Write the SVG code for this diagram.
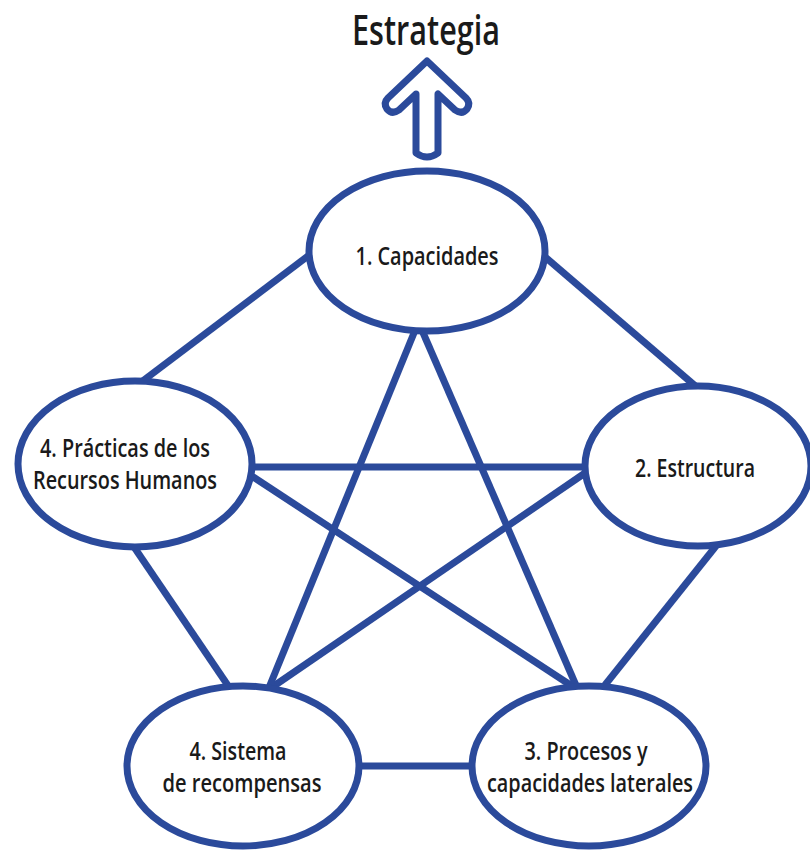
<svg xmlns="http://www.w3.org/2000/svg" width="810" height="850" viewBox="0 0 810 850">
  <style>
    .edge { stroke: #2b4a9b; stroke-width: 7; fill: none; stroke-linecap: butt; }
    .node { fill: #ffffff; stroke: #2b4a9b; stroke-width: 7; }
    .label { font-family: "Open Sans", "Liberation Sans", sans-serif; font-size: 25px; font-weight: 600; fill: #1a1a1a; text-anchor: middle; }
    .title { font-family: "Open Sans", "Liberation Sans", sans-serif; font-size: 42px; font-weight: 600; fill: #1a1a1a; text-anchor: middle; }
    .arrow { fill: #ffffff; stroke: #2b4a9b; stroke-width: 7; stroke-linejoin: round; }
  </style>

  <rect width="810" height="850" fill="#ffffff"/>

  <!-- heading and upward arrow -->
  <g id="strategy">
    <text class="title" x="426" y="45" textLength="148" lengthAdjust="spacingAndGlyphs">Estrategia</text>
    <path class="arrow" d="M416,153 L416,94 L399,110 Q392,115 387,109 Q383,103 388,98 L427,61 L466,98 Q471,103 467,109 Q462,115 455,110 L438,94 L438,153 Q427,161 416,153 Z"/>
  </g>

  <!-- connectors: pentagon sides and inner star -->
  <g id="connectors">
    <line class="edge" x1="312" y1="253" x2="140" y2="383"/>
    <line class="edge" x1="544" y1="256" x2="700" y2="390"/>
    <line class="edge" x1="245" y1="467" x2="590" y2="467"/>
    <line class="edge" x1="244" y1="471" x2="578" y2="690"/>
    <line class="edge" x1="588" y1="471" x2="268" y2="690"/>
    <line class="edge" x1="416" y1="328" x2="268" y2="690"/>
    <line class="edge" x1="421" y1="328" x2="578" y2="690"/>
    <line class="edge" x1="132" y1="544" x2="231" y2="690"/>
    <line class="edge" x1="716" y1="546" x2="601" y2="690"/>
    <line class="edge" x1="355" y1="766" x2="476" y2="766"/>
  </g>

  <g id="node-capacidades">
    <ellipse class="node" cx="427" cy="251" rx="118" ry="80"/>
    <text class="label" x="427" y="265" textLength="143" lengthAdjust="spacingAndGlyphs">1. Capacidades</text>
  </g>

  <g id="node-estructura">
    <ellipse class="node" cx="698" cy="466" rx="113" ry="80"/>
    <text class="label" x="695" y="477" textLength="120" lengthAdjust="spacingAndGlyphs">2. Estructura</text>
  </g>

  <g id="node-procesos">
    <ellipse class="node" cx="589" cy="766" rx="117" ry="80"/>
    <text class="label" x="586" y="760" textLength="123" lengthAdjust="spacingAndGlyphs">3. Procesos y</text>
    <text class="label" x="590" y="792" textLength="206" lengthAdjust="spacingAndGlyphs">capacidades laterales</text>
  </g>

  <g id="node-recompensas">
    <ellipse class="node" cx="243" cy="766" rx="116" ry="80"/>
    <text class="label" x="238" y="760" textLength="97" lengthAdjust="spacingAndGlyphs">4. Sistema</text>
    <text class="label" x="242" y="792" textLength="159" lengthAdjust="spacingAndGlyphs">de recompensas</text>
  </g>

  <g id="node-recursos-humanos">
    <ellipse class="node" cx="135" cy="464" rx="117" ry="83"/>
    <text class="label" x="125" y="457" textLength="170" lengthAdjust="spacingAndGlyphs">4. Prácticas de los</text>
    <text class="label" x="125" y="489" textLength="184" lengthAdjust="spacingAndGlyphs">Recursos Humanos</text>
  </g>
</svg>
